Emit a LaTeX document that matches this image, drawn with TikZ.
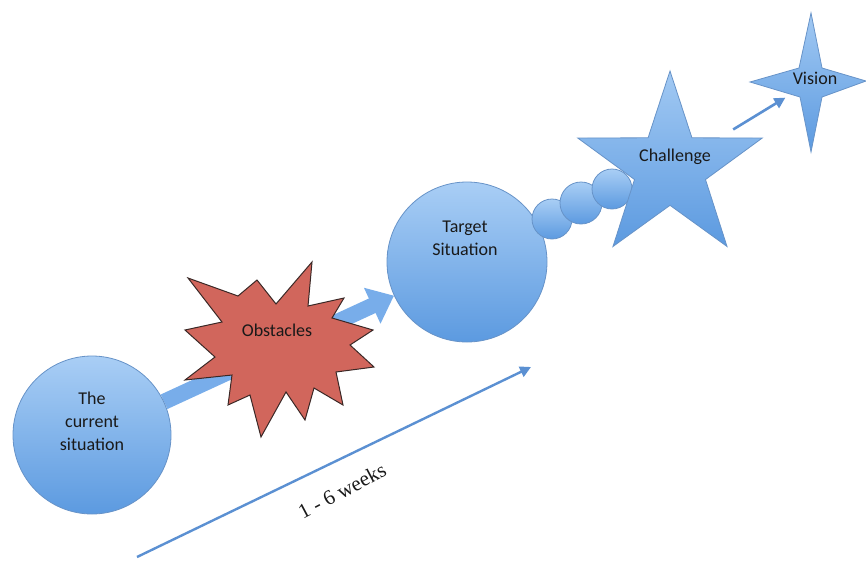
\documentclass[tikz,border=0pt]{standalone}
\usepackage{fontspec}
\setmainfont{Carlito}
\newfontfamily\weeksfont{Liberation Serif}
\usetikzlibrary{shapes.geometric,arrows.meta,backgrounds}

\definecolor{balltop}{HTML}{A9CEF5}
\definecolor{ballbot}{HTML}{5C9AE0}
\definecolor{ballline}{HTML}{6793C8}
\definecolor{arrowblue}{HTML}{5B90D2}
\definecolor{bigblue}{HTML}{78ADEA}
\definecolor{obstred}{HTML}{D1665C}
\definecolor{obstline}{HTML}{3A2826}

\tikzset{
  ball/.style={circle,draw=ballline,line width=0.8pt,top color=balltop,bottom color=ballbot,inner sep=0pt},
  starshade/.style={draw=ballline,line width=0.8pt,top color=balltop!90!ballbot,bottom color=ballbot},
  thinarrow/.style={draw=arrowblue,line width=2.6pt,-{Triangle[length=11pt,width=11pt]}},
  bigarrow/.style={draw=bigblue,line width=16pt,-{Triangle[length=24pt,width=38pt]}},
}

\begin{document}
\begin{tikzpicture}[x=1pt,y=-1pt,font=\fontsize{18}{23}\selectfont,text=black!90]
      \useasboundingbox (0,0) rectangle (866,560);
      % circles
      \node[ball,minimum size=158pt] (cur) at (92,435) {};
      \node[align=center] (curtext) at (92,421) {The\\current\\situation};
      \node[ball,minimum size=160pt] (target) at (467,262) {};
      \node[align=center] (targettext) at (465,238) {Target\\Situation};
      \node[ball,minimum size=40pt] (ball1) at (552,219) {};
      \node[ball,minimum size=42pt] (ball2) at (581,203) {};
      \node[ball,minimum size=40pt] (ball3) at (612,189) {};
      % stars
      \node[star,star points=5,star point ratio=2.6,minimum size=194pt,inner sep=0pt,starshade] (chal) at (670,168) {};
      \node (chaltext) at (675,157) {Challenge};
      \path[starshade] (811,13) -- (822,68) -- (866,81) -- (822,97) -- (811,152) -- (800,97) -- (750,82) -- (799,68) -- cycle;
      \node (vision) at (811,82) {};
      \node (visiontext) at (815,78) {Vision};
      % obstacles
      \path[draw=obstline,fill=obstred,line width=1pt] (188,278) -- (238,296) -- (257,280) -- (276,304) -- (312,262) -- (308,306)
            -- (344,298) -- (332,318) -- (373,330) -- (350,345) -- (374,367) -- (336,372) -- (343,405) -- (314,388)
            -- (305,420) -- (286,392) -- (261,437) -- (250,395) -- (228,405) -- (232,375) -- (185,380) -- (215,357)
            -- (185,330) -- (222,322) -- cycle;
      \node (obst) at (277,330) {Obstacles};
      % arrows
      \begin{pgfonlayer}{background}
        \draw[bigarrow] (cur) -- (target);
      \end{pgfonlayer}
      \draw[thinarrow,shorten <=74pt,shorten >=30pt] (chal.center) -- (vision.center);
      \coordinate (wstart) at (137,557);
      \coordinate (wend) at (531,367);
      \draw[thinarrow,line width=2.4pt] (wstart) -- (wend);
      \node[rotate=28,font=\weeksfont\fontsize{21}{24}\selectfont] (weeks) at (342,491) {1 - 6 weeks};
\end{tikzpicture}
\end{document}
